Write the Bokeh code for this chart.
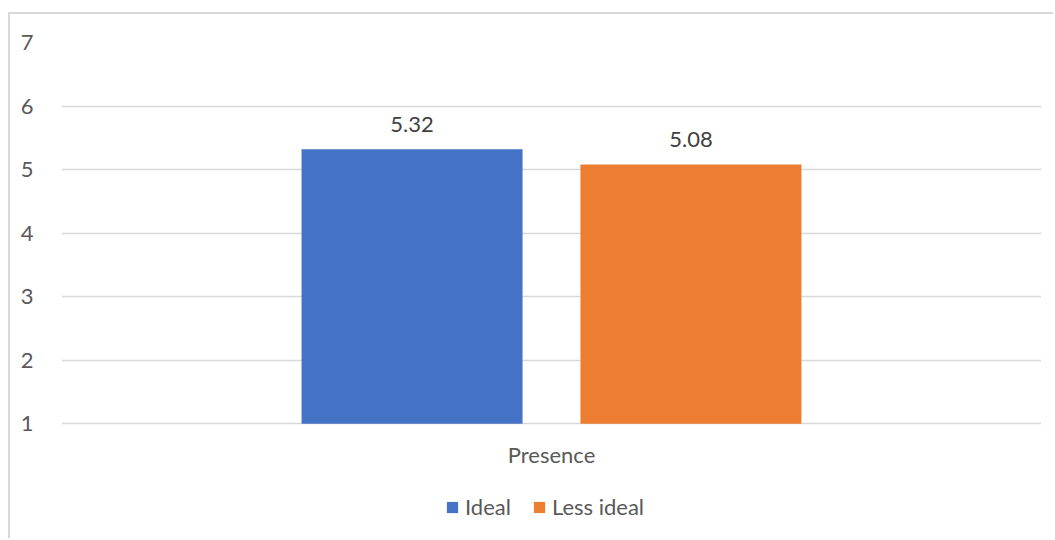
from bokeh.plotting import figure
from bokeh.models import FactorRange, Range1d, FixedTicker, ColumnDataSource, Legend, LegendItem
from bokeh.transform import dodge
from bokeh.core.properties import value
from bokeh.embed import file_html
from bokeh.resources import INLINE

# Chart data
categories = ["Presence"]
series_names = ["Ideal", "Less ideal"]
ideal = [5.32]
less_ideal = [5.08]
y_ticks = [1, 2, 3, 4, 5, 6, 7]

colors = ["#4472C4", "#ED7D31"]
FONT = "Lato"
FONT_SIZE = "22px"
GREY = "#595959"

src = ColumnDataSource(data=dict(
    cat=categories,
    base=[y_ticks[0]] * len(categories),
    ideal=ideal,
    less_ideal=less_ideal,
    ideal_txt=[f"{v:.2f}" for v in ideal],
    less_txt=[f"{v:.2f}" for v in less_ideal],
))

# the frame reaches down to the bottom edge so the category label and the
# legend can sit inside it, below the value axis floor (y = 1)
p = figure(
    width=1045, height=526,
    x_range=FactorRange(factors=categories, range_padding=0),
    y_range=Range1d(-0.836, y_ticks[-1]),
    output_backend="svg", toolbar_location=None,
    min_border_left=51, min_border_right=14, min_border_top=28, min_border_bottom=0,
)
p.styles = {"margin-left": "8px", "margin-top": "12px",
            "border-left": "2px solid #d9d9d9", "border-top": "2px solid #d9d9d9"}
p.outline_line_color = None
p.background_fill_color = "white"
p.border_fill_color = "white"

offset = 0.1423
bar_w = 0.2255
r1 = p.vbar(x=dodge("cat", -offset, range=p.x_range), top="ideal", bottom="base",
            width=bar_w, source=src, color=colors[0], line_color=None)
r2 = p.vbar(x=dodge("cat", offset, range=p.x_range), top="less_ideal", bottom="base",
            width=bar_w, source=src, color=colors[1], line_color=None)

# value labels above each bar
for col, txt, dx in (("ideal", "ideal_txt", -offset), ("less_ideal", "less_txt", offset)):
    p.text(x=dodge("cat", dx, range=p.x_range), y=col, text=txt, source=src,
           text_align="center", text_baseline="middle", y_offset=-25,
           text_font=value(FONT), text_font_size=FONT_SIZE, text_color="#404040")

# category label under the floor line
p.text(x="cat", y="base", text="cat", source=src, text_align="center",
       text_baseline="middle", y_offset=31,
       text_font=value(FONT), text_font_size=FONT_SIZE, text_color=GREY)

# axes
p.xaxis.visible = False
p.yaxis.ticker = FixedTicker(ticks=y_ticks)
p.yaxis.axis_line_color = None
p.yaxis.major_tick_line_color = None
p.yaxis.minor_tick_line_color = None
p.yaxis.major_label_standoff = 22
p.yaxis.major_label_text_font = FONT
p.yaxis.major_label_text_font_size = FONT_SIZE
p.yaxis.major_label_text_color = GREY

p.xgrid.grid_line_color = None
p.ygrid.ticker = FixedTicker(ticks=y_ticks)
p.ygrid.grid_line_color = "#d9d9d9"
p.ygrid.grid_line_width = 1.5

legend = Legend(
    items=[LegendItem(label=series_names[0], renderers=[r1]),
           LegendItem(label=series_names[1], renderers=[r2])],
    orientation="horizontal", location=(384, 20),
    label_text_font=FONT, label_text_font_size=FONT_SIZE, label_text_color=GREY,
    glyph_width=14, glyph_height=14, label_standoff=6, spacing=21,
    label_height=14, padding=0, margin=0, border_line_color=None, background_fill_alpha=0,
)
p.add_layout(legend, "center")

open("out.html", "w").write(file_html(p, INLINE))
